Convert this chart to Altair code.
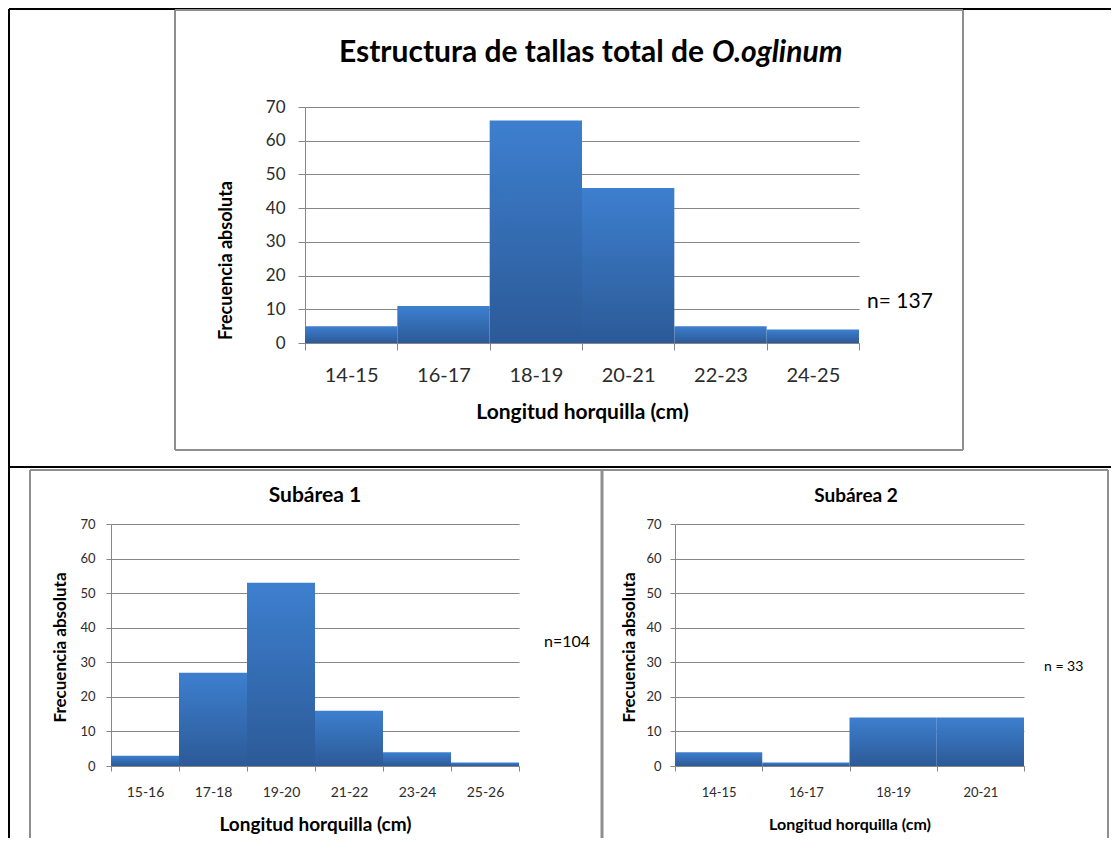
import altair as alt
import pandas as pd

# ---------------- data ----------------
total_bins = ["14-15", "16-17", "18-19", "20-21", "22-23", "24-25"]
total_freq = [5, 11, 66, 46, 5, 4]

sub1_bins = ["15-16", "17-18", "19-20", "21-22", "23-24", "25-26"]
sub1_freq = [3, 27, 53, 16, 4, 1]

sub2_bins = ["14-15", "16-17", "18-19", "20-21"]
sub2_freq = [4, 1, 14, 14]

y_ticks = [0, 10, 20, 30, 40, 50, 60, 70]

# ---------------- style ----------------
W, H = 1103, 830
FONT = "Lato"
GRID = "#868686"
FRAME = "#8f8f8f"
LABEL = "#2b2b2b"
BAR_FILL = alt.Gradient(
    gradient="linear",
    stops=[alt.GradientStop(color="#3D7FCF", offset=0),
           alt.GradientStop(color="#2C5A97", offset=1)],
    x1=0, x2=0, y1=0, y2=1,
)


def deco():
    return alt.Chart(alt.Data(values=[{}]))


def rule(x1, x2, y1, y2, color, width):
    return deco().mark_rule(color=color, strokeWidth=width).encode(
        x=alt.value(x1), x2=alt.value(x2), y=alt.value(y1), y2=alt.value(y2))


def label(text, x, y, size, bold=False, italic=False, align="center"):
    return deco().mark_text(
        text=text, font=FONT, fontSize=size,
        fontWeight="bold" if bold else "normal",
        fontStyle="italic" if italic else "normal",
        align=align, baseline="middle", color="#000000",
    ).encode(x=alt.value(x), y=alt.value(y))


def histogram(bins, freq, xr, yr, lab_x, lab_y, ypad, xpad, ytitle_size,
              xtitle_size, ytitle_x, ytitle_y, xtitle_y, ytick, xtick):
    """xr = [left, right] pixel range, yr = [bottom, top] pixel range."""
    df = pd.DataFrame({"clase": bins, "frecuencia": freq})
    return alt.Chart(df).mark_bar(fill=BAR_FILL, strokeWidth=0).encode(
        x=alt.X(
            "clase:N", sort=bins,
            scale=alt.Scale(paddingInner=0, paddingOuter=0, range=xr),
            axis=alt.Axis(
                orient="bottom", offset=-(H - yr[0]),
                title="Longitud horquilla (cm)", labelAngle=0, tickBand="extent",
                grid=False, domain=True, domainColor=GRID, ticks=True,
                tickColor=GRID, tickSize=xtick, labelFont=FONT,
                labelFontSize=lab_x, labelColor=LABEL, labelPadding=xpad,
                titleFont=FONT, titleFontSize=xtitle_size, titleFontWeight="bold",
                titleColor="#000000", titleX=(xr[0] + xr[1]) / 2,
                titleY=xtitle_y, titleBaseline="middle",
            ),
        ),
        y=alt.Y(
            "frecuencia:Q",
            scale=alt.Scale(domain=[0, 70], nice=False, range=yr),
            axis=alt.Axis(
                orient="left", offset=-xr[0],
                values=y_ticks, title="Frecuencia absoluta", grid=True,
                gridColor=GRID, gridWidth=1, domain=True, domainColor=GRID,
                ticks=True, tickColor=GRID, tickSize=ytick, labelFont=FONT,
                labelFontSize=lab_y, labelColor=LABEL, labelPadding=ypad,
                titleFont=FONT, titleFontSize=ytitle_size, titleFontWeight="bold",
                titleColor="#000000", titleX=ytitle_x, titleY=ytitle_y,
                titleBaseline="middle",
            ),
        ),
    )


# coordinates below are relative to the chart origin (page minus 8px margin)
hist_total = histogram(total_bins, total_freq, [297, 851], [335, 99],
                       20, 17, 13, 15, 18, 21, -79, 252, 69, 7, 7)
hist_sub1 = histogram(sub1_bins, sub1_freq, [103, 511], [758, 516],
                      14, 13, 11, 14, 17, 19, -51, 639, 58, 5, 5)
hist_sub2 = histogram(sub2_bins, sub2_freq, [667, 1016], [758, 516],
                      13, 13, 9, 15, 17, 16, -46, 639, 58, 5, 5)

decorations = [
    # outer table lines
    rule(1, W, 1, 1, "#000000", 2),
    rule(1, 1, 1, H, "#000000", 2),
    rule(1, W, 459, 459, "#000000", 2),
    # frame of the total chart
    rule(167, 955, 2, 2, FRAME, 2),
    rule(167, 955, 442, 442, FRAME, 2),
    rule(167, 167, 2, 442, FRAME, 2),
    rule(955, 955, 2, 442, FRAME, 2),
    # frames of the sub-area charts
    rule(22, 1100, 462, 462, FRAME, 2),
    rule(22, 22, 462, H, FRAME, 2),
    rule(594, 594, 462, H, FRAME, 3),
    rule(1100, 1100, 462, H, FRAME, 2),
    # texts
    label("Estructura de tallas total de", 696, 45, 30, bold=True, align="right"),
    label("O.oglinum", 704, 45, 30, bold=True, italic=True, align="left"),
    label("n= 137", 859, 294, 21, align="left"),
    label("Subárea 1", 307, 488, 21, bold=True),
    label("n=104", 536, 634, 16, align="left"),
    label("Subárea 2", 848, 488, 19, bold=True),
    label("n = 33", 1036, 659, 14, align="left"),
]

chart = alt.layer(hist_total, hist_sub1, hist_sub2, *decorations).resolve_scale(
    x="independent", y="independent"
).resolve_axis(
    x="independent", y="independent"
).properties(
    width=W, height=H, padding=0, background="white",
    autosize=alt.AutoSizeParams(type="none"),
).configure_view(stroke=None)

chart.save("out.html", embed_options={"renderer": "svg", "actions": False})
